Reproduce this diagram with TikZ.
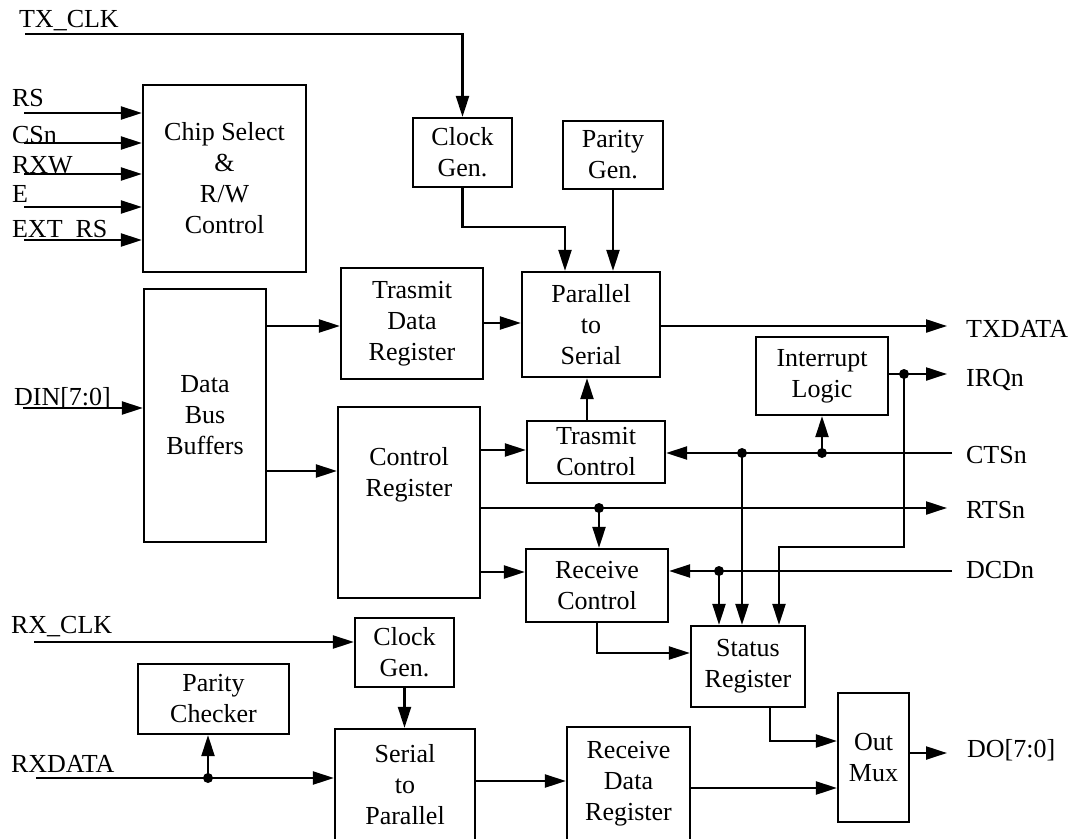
\documentclass[tikz,border=0pt]{standalone}
\usepackage{fontspec}
\setmainfont{Liberation Serif}
\usetikzlibrary{arrows.meta}
\begin{document}
\begin{tikzpicture}[x=1pt, y=-1pt, line width=2.2pt, >={Triangle[length=21pt,width=13pt]},
    every node/.style={font=\fontsize{26}{31}\selectfont},
    blk/.style={draw, align=center, inner sep=0pt},
    sig/.style={anchor=base west, inner sep=0pt}]
    \useasboundingbox (0,0) rectangle (1078,838);
    \clip (0,0) rectangle (1078,838);

    \node[blk, minimum width=163pt, minimum height=187pt] (csel) at (224.5,178.5) {Chip Select\\\&\\R/W\\Control};
    \node[blk, minimum width=99pt, minimum height=69pt] (txgen) at (462.5,152.5) {Clock\\Gen.};
    \node[blk, minimum width=100pt, minimum height=68pt] (pgen) at (613,155) {Parity\\Gen.};
    \node[blk, minimum width=138pt, minimum height=105pt] (p2s) at (591,324.5) {Parallel\\to\\Serial};
    \node[blk, minimum width=142pt, minimum height=111pt] (tdr) at (412,323.5) {Trasmit\\Data\\Register};
    \node[blk, minimum width=122pt, minimum height=253pt] (dbb) at (205,415.5) {Data\\Bus\\Buffers};
    \node[blk, minimum width=142pt, minimum height=191pt] (creg) at (409,502.5) {Control\\Register\\~\\~};
    \node[blk, minimum width=138pt, minimum height=62pt] (tctl) at (596,452) {Trasmit\\Control};
    \node[blk, minimum width=132pt, minimum height=78pt] (intl) at (822,376) {Interrupt\\Logic};
    \node[blk, minimum width=142pt, minimum height=73pt] (rctl) at (597,585.5) {Receive\\Control};
    \node[blk, minimum width=114pt, minimum height=81pt] (sreg) at (748,666.5) {Status\\Register};
    \node[blk, minimum width=71pt, minimum height=129pt] (omux) at (873.5,757.5) {Out\\Mux};
    \node[blk, minimum width=99pt, minimum height=69pt] (rxgen) at (404.5,652.5) {Clock\\Gen.};
    \node[blk, minimum width=151pt, minimum height=70pt] (pchk) at (213.5,699) {Parity\\Checker};
    \node[blk, minimum width=140pt, minimum height=112pt] (s2p) at (405,785) {Serial\\to\\Parallel};
    \node[blk, minimum width=123pt, minimum height=114pt] (rdr) at (628.5,784) {Receive\\Data\\Register};

    \node[sig] (l-txclk) at (18,27) {TX\_CLK};
    \coordinate (txclk) at (25,34);
    \draw[->] (txclk) -| (txgen.north);
    \draw[->] (txgen.south) -- ++(0,39) -| (p2s.north -| 565,0);
    \draw[->] (pgen.south) -- (pgen.south |- p2s.north);

    \foreach \n/\y/\t/\b in {rs/113/RS/106, csn/143/CSn/143, rxw/174/RXW/173, e/207/E/202, extrs/240/EXT\_RS/237} {
        \node[sig] (l-\n) at (11,\b) {\t};
        \coordinate (in-\n) at (24,\y);
        \draw[->] (in-\n) -- (in-\n -| csel.west);
    }

    \node[sig] (l-din) at (13,405) {DIN[7:0]};
    \coordinate (din) at (23,408);
    \draw[->] (din) -- (din -| dbb.west);
    \draw[->] (dbb.east |- 0,326) -- (tdr.west |- 0,326);
    \draw[->] (dbb.east |- 0,471) -- (creg.west |- 0,471);
    \draw[->] (tdr.east |- 0,323) -- (p2s.west |- 0,323);
    \draw[->] (creg.east |- 0,450) -- (tctl.west |- 0,450);
    \draw[->] (creg.east |- 0,572) -- (rctl.west |- 0,572);
    \draw[->] (tctl.north -| 587,0) -- (p2s.south -| 587,0);

    \node[sig] (l-txd) at (965,337) {TXDATA};
    \coordinate (txd) at (947,326);
    \draw[->] (p2s.east |- txd) -- (txd);

    \node[sig] (l-irq) at (965,386) {IRQn};
    \coordinate (irqo) at (947,374);
    \coordinate (j-irq) at (904,374);
    \draw[->] (intl.east |- irqo) -- (irqo);
    \draw[->] (j-irq) -- ++(0,173) -| (sreg.north -| 779,0);

    \node[sig] (l-cts) at (965,463) {CTSn};
    \coordinate (cts) at (952,453);
    \coordinate (j-cts1) at (742,453);
    \coordinate (j-cts2) at (822,453);
    \draw[->] (cts) -- (tctl.east |- cts);
    \draw[->] (j-cts2) -- (intl.south);
    \draw[->] (j-cts1) -- (sreg.north -| j-cts1);

    \node[sig] (l-rts) at (965,518) {RTSn};
    \coordinate (rts) at (947,508);
    \coordinate (j-rts) at (599,508);
    \draw[->] (creg.east |- rts) -- (rts);
    \draw[->] (j-rts) -- (rctl.north -| j-rts);

    \node[sig] (l-dcd) at (965,578) {DCDn};
    \coordinate (dcd) at (952,571);
    \coordinate (j-dcd) at (719,571);
    \draw[->] (dcd) -- (rctl.east |- dcd);
    \draw[->] (j-dcd) -- (sreg.north -| j-dcd);

    \draw[->] (rctl.south) |- (sreg.west |- 0,653);
    \draw[->] (sreg.south -| 770,0) |- (omux.west |- 0,741);
    \draw[->] (rdr.east |- 0,788) -- (omux.west |- 0,788);
    \node[sig] (l-dout) at (966,757) {DO[7:0]};
    \coordinate (dout) at (947,753);
    \draw[->] (omux.east |- dout) -- (dout);

    \node[sig] (l-rxclk) at (10,633) {RX\_CLK};
    \coordinate (rxclk) at (34,642);
    \draw[->] (rxclk) -- (rxclk -| rxgen.west);
    \draw[->] (rxgen.south) -- (rxgen.south |- s2p.north);

    \node[sig] (l-rxd) at (10,772) {RXDATA};
    \coordinate (rxd) at (36,778);
    \coordinate (j-rxd) at (208,778);
    \draw[->] (rxd) -- (rxd -| s2p.west);
    \draw[->] (j-rxd) -- (pchk.south -| j-rxd);
    \draw[->] (s2p.east |- 0,781) -- (rdr.west |- 0,781);

    \foreach \j in {j-irq, j-cts1, j-cts2, j-rts, j-dcd, j-rxd}
        \fill (\j) circle (5pt);
\end{tikzpicture}
\end{document}
